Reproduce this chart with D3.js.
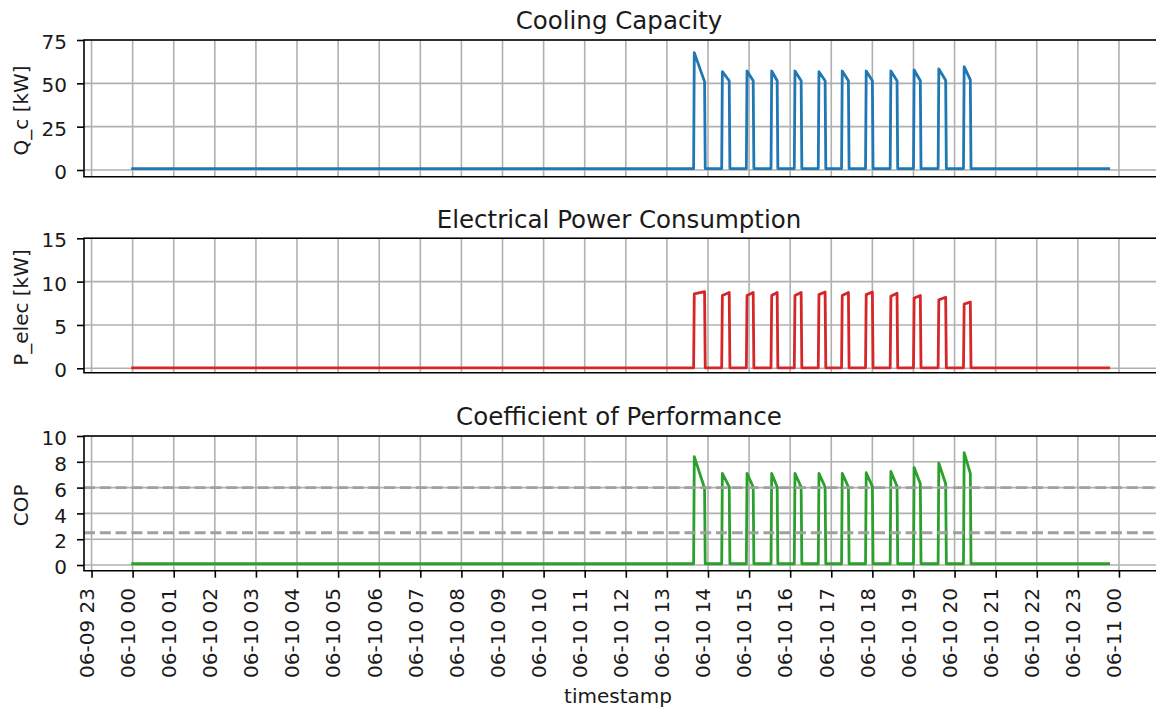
<!DOCTYPE html>
<html>
<head>
<meta charset="utf-8">
<script src="https://cdn.jsdelivr.net/npm/d3@7"></script>
<style>
  body { margin: 0; background: #fff; }
  svg { display: block; font-family: "DejaVu Sans", sans-serif; }
</style>
</head>
<body>
<svg id="chart" width="1156" height="709"></svg>
<script>
// One day of heat-pump logging, one-minute readings
const logDay = "2023-06-10";
const logStart = "00:00";
const logEnd = "23:45";
// visible time window of the shared x axis
const viewStart = "2023-06-09T22:49:00Z";
const viewEnd = "2023-06-11T00:57:00Z";

// compressor on/off switching times
const cycleOn  = ["13:40", "14:21", "14:57", "15:33", "16:07", "16:42", "17:16", "17:51", "18:27", "19:01", "19:37", "20:14"];
const cycleOff = ["13:55", "14:31", "15:06", "15:41", "16:16", "16:51", "17:25", "18:00", "18:36", "19:10", "19:47", "20:23"];

// cooling capacity [kW] at switch-on and just before switch-off
const qcIdle = 0.8;
const qcOn  = [67.7, 56.7, 57.1, 57.1, 57.1, 56.7, 57.1, 57.1, 57.1, 57.7, 58.3, 59.6];
const qcOff = [51.0, 51.5, 51.5, 51.5, 51.5, 51.5, 51.5, 51.5, 51.5, 51.5, 51.8, 52.0];

// electrical power [kW]
const pelIdle = 0.05;
const pelOn  = [8.6, 8.4, 8.4, 8.4, 8.4, 8.5, 8.4, 8.5, 8.3, 8.1, 7.9, 7.4];
const pelOff = [8.85, 8.75, 8.75, 8.75, 8.75, 8.8, 8.75, 8.8, 8.65, 8.4, 8.2, 7.65];

// coefficient of performance
const copIdle = 0.1;
const copOn  = [8.4, 7.1, 7.1, 7.1, 7.1, 7.1, 7.1, 7.15, 7.25, 7.55, 7.9, 8.7];
const copOff = [5.95, 6.05, 6.05, 6.05, 6.05, 6.05, 6.05, 6.1, 6.1, 6.3, 6.3, 7.1];
const copLimits = [6.0, 2.5];

// y tick values per panel
const qcTicks = [0, 25, 50, 75];
const pelTicks = [0, 5, 10, 15];
const copTicks = [0, 2, 4, 6, 8, 10];

const parseTime = d3.utcParse("%Y-%m-%d %H:%M");
const at = hm => parseTime(`${logDay} ${hm}`);
const MINUTE = 60000;

// expand the cycle table into the one-minute trace
function trace(idle, onVals, offVals) {
  const pts = [{ t: at(logStart), v: idle }];
  cycleOn.forEach((on, i) => {
    const t0 = at(on), t1 = at(cycleOff[i]);
    pts.push({ t: new Date(+t0 - MINUTE), v: idle });
    pts.push({ t: t0, v: onVals[i] });
    pts.push({ t: t1, v: offVals[i] });
    pts.push({ t: new Date(+t1 + MINUTE), v: idle });
  });
  pts.push({ t: at(logEnd), v: idle });
  return pts;
}

const svg = d3.select("#chart");
const left = 84, right = 1158;
const titleX = 619;
const ink = "#1a1a1a";

const x = d3.scaleUtc()
  .domain([d3.isoParse(viewStart), d3.isoParse(viewEnd)])
  .range([left, right]);
const hours = x.ticks(d3.utcHour.every(1));

const panels = [
  { title: "Cooling Capacity", label: "Q_c [kW]", top: 40, bottom: 176.7,
    yDomain: [-3.87, 75], ticks: qcTicks, color: "#1f77b4",
    data: trace(qcIdle, qcOn, qcOff), limits: [] },
  { title: "Electrical Power Consumption", label: "P_elec [kW]", top: 238.3, bottom: 372.7,
    yDomain: [-0.51, 15], ticks: pelTicks, color: "#d62728",
    data: trace(pelIdle, pelOn, pelOff), limits: [] },
  { title: "Coefficient of Performance", label: "COP", top: 436, bottom: 570.7,
    yDomain: [-0.44, 10], ticks: copTicks, color: "#2ca02c",
    data: trace(copIdle, copOn, copOff), limits: copLimits }
];

panels.forEach((p, idx) => {
  const y = d3.scaleLinear().domain(p.yDomain).range([p.bottom, p.top]);
  const g = svg.append("g");

  // grid
  g.append("g").selectAll("line").data(hours).join("line")
    .attr("x1", d => x(d)).attr("x2", d => x(d))
    .attr("y1", p.top).attr("y2", p.bottom)
    .attr("stroke", "#b0b0b0").attr("stroke-width", 1.6);
  g.append("g").selectAll("line").data(p.ticks).join("line")
    .attr("x1", left).attr("x2", right)
    .attr("y1", d => y(d)).attr("y2", d => y(d))
    .attr("stroke", "#b0b0b0").attr("stroke-width", 1.6);

  // measured trace
  const line = d3.line().x(d => x(d.t)).y(d => y(d.v));
  g.append("path").datum(p.data)
    .attr("d", line)
    .attr("fill", "none")
    .attr("stroke", p.color)
    .attr("stroke-width", 2.8)
    .attr("stroke-linejoin", "round")
    .attr("stroke-linecap", "square");

  // reference levels
  g.append("g").selectAll("line").data(p.limits).join("line")
    .attr("x1", left).attr("x2", right)
    .attr("y1", d => y(d)).attr("y2", d => y(d))
    .attr("stroke", "#a0a0a0").attr("stroke-width", 2.8)
    .attr("stroke-dasharray", "11,4.8");

  // spines
  const sp = g.append("g").attr("stroke", "#000").attr("stroke-width", 1.6);
  sp.append("line").attr("x1", left - 0.8).attr("x2", right).attr("y1", p.top).attr("y2", p.top);
  sp.append("line").attr("x1", left - 0.8).attr("x2", right).attr("y1", p.bottom).attr("y2", p.bottom);
  sp.append("line").attr("x1", left).attr("x2", left).attr("y1", p.top).attr("y2", p.bottom);

  // y axis
  const ya = g.append("g").attr("transform", `translate(${left},0)`)
    .call(d3.axisLeft(y).tickValues(p.ticks).tickSize(7).tickFormat(d3.format("d")));
  ya.select(".domain").remove();
  ya.selectAll(".tick line").attr("stroke", "#000").attr("stroke-width", 1.6);
  ya.selectAll(".tick text")
    .attr("x", -17).attr("dy", "0.43em")
    .attr("fill", ink)
    .style("font-size", "20px")
    .style("font-family", "DejaVu Sans, sans-serif");

  // title and y label
  g.append("text")
    .attr("x", titleX).attr("y", p.top - 10.8)
    .attr("text-anchor", "middle")
    .attr("fill", ink)
    .style("font-size", "24.5px")
    .text(p.title);
  g.append("text")
    .attr("transform", `translate(28,${(p.top + p.bottom) / 2 + 2}) rotate(-90)`)
    .attr("text-anchor", "middle")
    .attr("fill", ink)
    .style("font-size", "20px")
    .text(p.label);

  // shared time axis on the lowest panel
  if (idx === panels.length - 1) {
    const xa = g.append("g").attr("transform", `translate(0,${p.bottom})`)
      .call(d3.axisBottom(x).ticks(d3.utcHour.every(1)).tickFormat(d3.utcFormat("%m-%d %H")).tickSize(7));
    xa.select(".domain").remove();
    xa.selectAll(".tick line").attr("stroke", "#000").attr("stroke-width", 1.6);
    xa.selectAll(".tick text")
      .attr("x", 0).attr("y", 0).attr("dy", "1.8px")
      .attr("transform", `translate(0,${588 - p.bottom}) rotate(-90)`)
      .attr("text-anchor", "end")
      .attr("fill", ink)
      .style("font-size", "20px")
      .style("font-family", "DejaVu Sans, sans-serif");
    g.append("text")
      .attr("x", 618).attr("y", 702.5)
      .attr("text-anchor", "middle")
      .attr("fill", ink)
      .style("font-size", "20px")
      .text("timestamp");
  }
});
</script>
</body>
</html>
